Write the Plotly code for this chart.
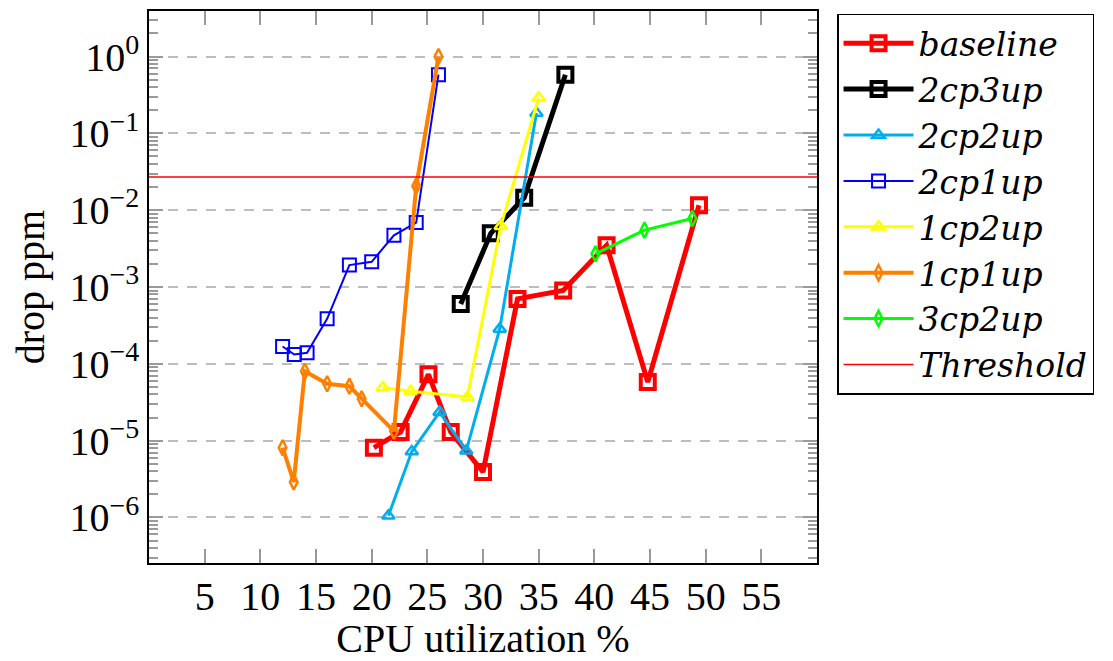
import plotly.graph_objects as go

# ---- data ----
baseline_x = [20.2, 22.6, 25.1, 27.1, 30.0, 33.1, 37.2, 41.1, 44.8, 49.4]
baseline_y = [8.1e-6, 1.3e-5, 7.3e-5, 1.3e-5, 3.9e-6, 7.0e-4, 9.0e-4, 3.5e-3, 5.8e-5, 1.16e-2]

cp2up3_x = [28.0, 30.7, 33.7, 37.4]
cp2up3_y = [6.0e-4, 5.0e-3, 1.45e-2, 0.58]

cp2up2_x = [21.5, 23.6, 26.1, 28.5, 31.5, 34.8]
cp2up2_y = [1.05e-6, 7.2e-6, 2.35e-5, 7.4e-6, 2.85e-4, 0.184]

cp2up1_x = [12.0, 13.05, 14.2, 16.0, 18.0, 20.0, 22.0, 24.0, 26.0]
cp2up1_y = [1.68e-4, 1.32e-4, 1.39e-4, 3.85e-4, 1.93e-3, 2.13e-3, 4.7e-3, 6.9e-3, 0.58]

cp1up2_x = [21.0, 23.5, 28.6, 31.6, 35.0]
cp1up2_y = [4.9e-5, 4.4e-5, 3.7e-5, 6.2e-3, 0.29]

cp1up1_x = [12.0, 13.0, 14.0, 16.0, 18.0, 19.1, 22.0, 24.0, 26.0]
cp1up1_y = [8.1e-6, 2.9e-6, 8.0e-5, 5.5e-5, 5.1e-5, 3.5e-5, 1.33e-5, 2.06e-2, 1.0]

cp3up2_x = [40.1, 44.5, 48.8]
cp3up2_y = [2.7e-3, 5.5e-3, 7.8e-3]

threshold_x = [0, 60]
threshold_value = 0.027

x_tickvals = [5, 10, 15, 20, 25, 30, 35, 40, 45, 50, 55]
y_tickvals = [1e-6, 1e-5, 1e-4, 1e-3, 1e-2, 1e-1, 1e0]
y_ticktext = ["10<sup>\u22126</sup>", "10<sup>\u22125</sup>", "10<sup>\u22124</sup>",
              "10<sup>\u22123</sup>", "10<sup>\u22122</sup>", "10<sup>\u22121</sup>",
              "10<sup>0</sup>"]

series = [
    ("baseline", baseline_x, baseline_y, "#ff0000", 5, "square-open", 14, 4),
    ("2cp3up", cp2up3_x, cp2up3_y, "#000000", 5, "square-open", 14, 4),
    ("2cp2up", cp2up2_x, cp2up2_y, "#00aeef", 3, "triangle-up-open", 11, 2.5),
    ("2cp1up", cp2up1_x, cp2up1_y, "#0000ff", 2, "square-open", 13, 2),
    ("1cp2up", cp1up2_x, cp1up2_y, "#ffff00", 3, "triangle-up-open", 11, 2.5),
    ("1cp1up", cp1up1_x, cp1up1_y, "#ff8000", 4, "diamond-tall-open", 11, 2.5),
    ("3cp2up", cp3up2_x, cp3up2_y, "#00ff00", 3, "diamond-tall-open", 11, 2.5),
]

fig = go.Figure()
for i, (name, xs, ys, color, lw, sym, msize, mlw) in enumerate(series):
    fig.add_trace(go.Scatter(
        x=xs, y=ys, mode="lines+markers", name="<i>" + name + "</i>",
        legendgroup="g%d" % i,
        line=dict(color=color, width=lw),
        marker=dict(symbol=sym, size=msize, color=color, line=dict(color=color, width=mlw)),
    ))

fig.add_trace(go.Scatter(
    x=threshold_x, y=[threshold_value] * len(threshold_x), mode="lines",
    name="<i>Threshold</i>", legendgroup="g7",
    line=dict(color="#ff0000", width=1.5),
))

font_main = "Liberation Serif"
FS = 40

# the page body adds an 8px offset; size and margins compensate for it
fig.update_layout(
    width=1105, height=653,
    margin=dict(l=141, r=296, t=1, b=98),
    paper_bgcolor="white", plot_bgcolor="white",
    font=dict(family=font_main, size=FS, color="black"),
    showlegend=True,
    legend=dict(
        x=1.03, y=0.995, xanchor="left", yanchor="top",
        bordercolor="black", borderwidth=1.5,
        font=dict(family="DejaVu Serif", size=33, color="black"),
        traceorder="grouped", tracegroupgap=0,
        itemwidth=70,
    ),
)

fig.update_xaxes(
    range=[0, 60], tickmode="array", tickvals=x_tickvals,
    showline=True, linecolor="black", linewidth=1.5, mirror="allticks",
    ticks="inside", ticklen=14, tickwidth=1.5, tickcolor="#9a9a9a",
    showgrid=False, zeroline=False,
    ticklabelstandoff=-3,
    tickfont=dict(family=font_main, size=FS),
    title=dict(text="CPU utilization %", font=dict(family=font_main, size=FS), standoff=5),
)

minor_vals = [m * 10.0 ** e for e in range(-7, 1) for m in range(2, 10)]

fig.update_yaxes(
    type="log", range=[-6.593, 0.593],
    tickmode="array", tickvals=y_tickvals, ticktext=y_ticktext,
    showline=True, linecolor="black", linewidth=1.5, mirror="allticks",
    ticks="inside", ticklen=14, tickwidth=1.5, tickcolor="#9a9a9a",
    showgrid=True, gridcolor="#bdbdbd", gridwidth=1.5, griddash="10px,9px",
    minor=dict(ticks="inside", ticklen=9, tickwidth=1.5, tickcolor="#9a9a9a",
               tickmode="array", tickvals=minor_vals, showgrid=False),
    zeroline=False,
    ticklabelstandoff=0,
    tickfont=dict(family=font_main, size=FS),
    title=dict(text="drop ppm", font=dict(family=font_main, size=FS), standoff=16),
)

fig.write_html("out.html")
